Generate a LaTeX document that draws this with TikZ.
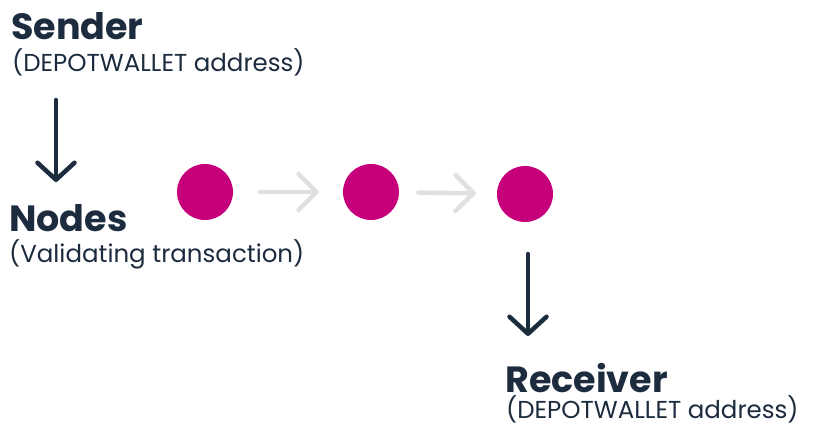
\documentclass[tikz,border=0pt]{standalone}
\usepackage{fontspec}
\setmainfont{Poppins}
\usetikzlibrary{positioning, arrows.meta}
\definecolor{navyblue}{HTML}{1C2B3E}
\definecolor{nodepink}{HTML}{C5007A}
\definecolor{lightgrey}{HTML}{E0E0E0}

\begin{document}
\begin{tikzpicture}[x = 1pt, y = -1pt,
               title/.style ={anchor = base west, inner sep = 0pt, text = navyblue, font = \fontsize{36.5}{36}\selectfont\bfseries},
               subtitle/.style ={anchor = base west, inner sep = 0pt, text = navyblue, font = \fontsize{24.5}{25}\selectfont},
               state/.style ={circle, fill = nodepink, minimum size = 56pt, inner sep = 0pt},
               darrow/.style ={draw = navyblue, line width = 4.5pt, line cap = round, -{Straight Barb[length = 17pt, width = 37pt, round]}},
               garrow/.style ={draw = lightgrey, line width = 4.5pt, line cap = round, -{Straight Barb[length = 18pt, width = 36pt, round]}}]

           \useasboundingbox (0, 0) rectangle (815, 425);

           %texto
           \node[title] (send) at (11, 40) {Sender};
           \node[subtitle] (sendsub) at (12, 72) {(DEPOTWALLET address)};
           \node[title] (nodes) at (9, 232) {Nodes};
           \node[subtitle] (nodessub) at (9, 262) {(Validating transaction)};
           \node[title] (recv) at (505, 392) {Receiver};
           \node[subtitle] (recvsub) at (506, 418) {(DEPOTWALLET address)};

           %nodos
           \node[state] (c1) at (205, 192) {};
           \node[state] (c2) at (371, 192) {};
           \node[state] (c3) at (525, 194) {};

           \coordinate (a1) at (56, 100);
           \coordinate (b1) at (56, 182);
           \coordinate (a2) at (528, 254);
           \coordinate (b2) at (528, 336);

           \path[darrow] (a1) -- (b1);
           \path[darrow] (a2) -- (b2);

           \path[garrow] (c1) edge[shorten <= 27pt, shorten >= 24pt] (c2);
           \path[garrow] (c2) edge[shorten <= 19pt, shorten >= 21pt] (c3);

       \end{tikzpicture}
\end{document}
